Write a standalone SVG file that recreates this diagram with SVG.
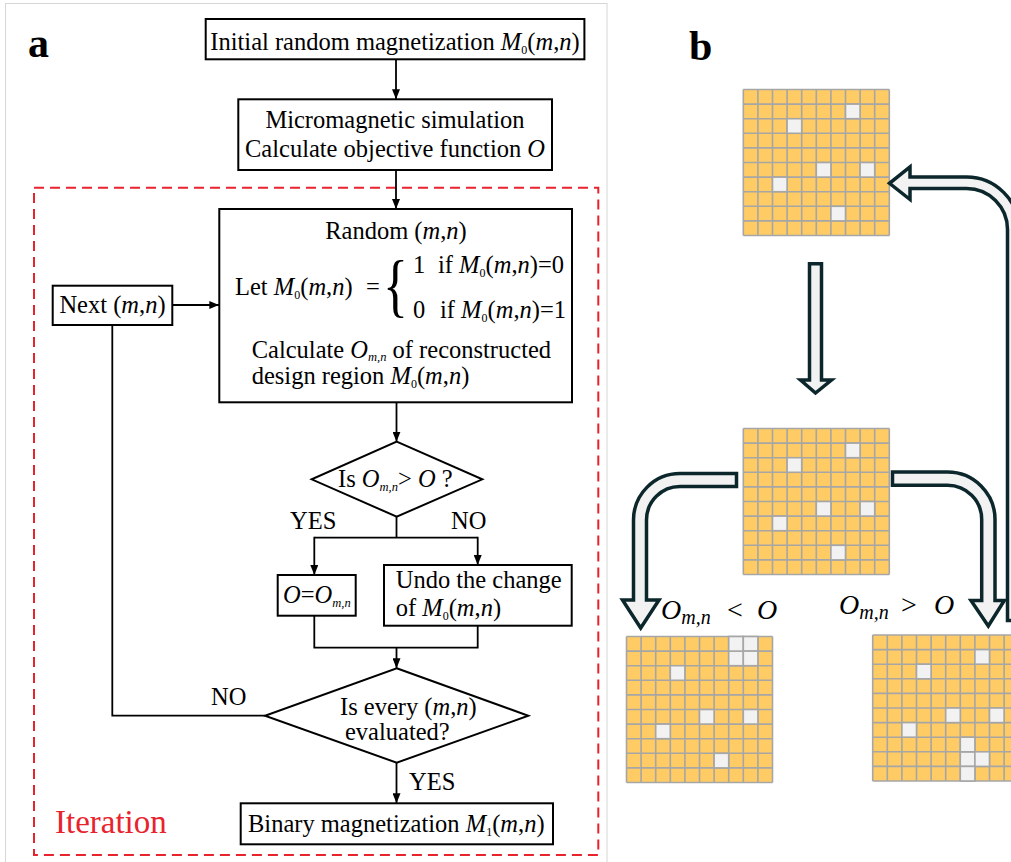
<svg xmlns="http://www.w3.org/2000/svg" xmlns:xlink="http://www.w3.org/1999/xlink" width="1011" height="862" viewBox="0 0 1011 862">
  <style>
    .t { font-family: "Liberation Serif", "Times New Roman", serif; font-size: 24.5px; fill: #000; }
    .i { font-style: italic; }
    .s { font-size: 12px; }
    .sm { font-size: 12.5px; font-style: italic; }
    .box { fill: #fff; stroke: #000; stroke-width: 2; }
    .ln { fill: none; stroke: #000; stroke-width: 1.8; }
    .arr { fill: none; stroke: #000; stroke-width: 1.8; marker-end: url(#ah); }
    .lbl { font-family: "Liberation Serif", "Times New Roman", serif; font-weight: bold; font-size: 42px; fill: #000; }
    .math { font-family: "Liberation Serif", "Times New Roman", serif; font-size: 28px; fill: #000; }
    .msub { font-size: 20px; font-style: italic; }
    .big { fill: #f2f2f2; stroke: #0c272b; stroke-width: 3.5; stroke-linejoin: miter; stroke-miterlimit: 10; }
    .cell { fill: #f2f2f2; stroke: #a6a6a6; stroke-width: 1.6; }
  </style>
  <defs>
    <marker id="ah" viewBox="0 0 10 8" refX="10" refY="4" markerWidth="10" markerHeight="8" markerUnits="userSpaceOnUse" orient="auto">
      <path d="M0 0 L10 4 L0 8 Z" fill="#000"/>
    </marker>
    <!-- 10 x 10 magnetization grid, 14.6 px pitch -->
    <g id="grid">
      <rect x="0" y="0" width="146" height="146" fill="#fecb64"/>
      <path d="M0 0V146M14.6 0V146M29.2 0V146M43.8 0V146M58.4 0V146M73 0V146M87.6 0V146M102.2 0V146M116.8 0V146M131.4 0V146M146 0V146M0 0H146M0 14.6H146M0 29.2H146M0 43.8H146M0 58.4H146M0 73H146M0 87.6H146M0 102.2H146M0 116.8H146M0 131.4H146M0 146H146" fill="none" stroke="#a6a6a6" stroke-width="1.6"/>
    </g>
    <!-- cells that are 0 in the base pattern -->
    <g id="zeros">
      <rect class="cell" x="102.2" y="14.6" width="14.6" height="14.6"/>
      <rect class="cell" x="43.8" y="29.2" width="14.6" height="14.6"/>
      <rect class="cell" x="73" y="73" width="14.6" height="14.6"/>
      <rect class="cell" x="116.8" y="73" width="14.6" height="14.6"/>
      <rect class="cell" x="29.2" y="87.6" width="14.6" height="14.6"/>
      <rect class="cell" x="87.6" y="116.8" width="14.6" height="14.6"/>
    </g>
  </defs>

  <rect width="1011" height="862" fill="#fff"/>

  <!-- panel a frame -->
  <rect x="5.5" y="3.5" width="601.5" height="870" fill="none" stroke="#d6d6d6" stroke-width="1"/>

  <!-- ===== panel a : flowchart ===== -->
  <text class="lbl" x="28" y="57">a</text>

  <g id="iteration">
    <rect x="34" y="187.7" width="564.3" height="667.3" fill="none" stroke="#e8232e" stroke-width="2" stroke-dasharray="10 6"/>
    <text x="55" y="833" font-family="Liberation Serif, Times New Roman, serif" font-size="33" fill="#e8232e">Iteration</text>
  </g>

  <g id="connectors">
    <line class="arr" x1="396" y1="59.3" x2="396" y2="99.3"/>
    <line class="arr" x1="396" y1="170" x2="396" y2="209"/>
    <line class="arr" x1="172.3" y1="305" x2="219.3" y2="305"/>
    <line class="arr" x1="396.5" y1="402.3" x2="396.5" y2="441.7"/>
    <polyline class="ln" points="396.5,516.7 396.5,537.7"/>
    <polyline class="ln" points="314.3,537.7 477.7,537.7"/>
    <line class="arr" x1="314.3" y1="536.8" x2="314.3" y2="575"/>
    <line class="arr" x1="477.7" y1="536.8" x2="477.7" y2="565"/>
    <polyline class="ln" points="314.3,615.7 314.3,647.7 477.7,647.7 477.7,625.7"/>
    <line class="arr" x1="396.5" y1="647.7" x2="396.5" y2="668.3"/>
    <polyline class="ln" points="265,715.7 112.3,715.7 112.3,325"/>
    <line class="arr" x1="396.5" y1="762.7" x2="396.5" y2="803.3"/>
    <text class="t" x="290" y="529">YES</text>
    <text class="t" x="451" y="529">NO</text>
    <text class="t" x="211" y="705">NO</text>
    <text class="t" x="409" y="790">YES</text>
  </g>

  <g id="init">
    <rect class="box" x="205.7" y="19" width="378.7" height="40.3"/>
    <text class="t" x="395" y="50" text-anchor="middle">Initial random magnetization <tspan class="i">M</tspan><tspan class="s" dy="4">0</tspan><tspan dy="-4">(</tspan><tspan class="i">m</tspan>,<tspan class="i">n</tspan>)</text>
  </g>

  <g id="simulate">
    <rect class="box" x="238.3" y="99.3" width="313.7" height="70.7"/>
    <text class="t" x="395" y="128" text-anchor="middle">Micromagnetic simulation</text>
    <text class="t" x="395" y="157" text-anchor="middle">Calculate objective function <tspan class="i">O</tspan></text>
  </g>

  <g id="next">
    <rect class="box" x="52.7" y="285.7" width="119.6" height="39.3"/>
    <text class="t" x="112.5" y="313" text-anchor="middle">Next (<tspan class="i">m</tspan>,<tspan class="i">n</tspan>)</text>
  </g>

  <g id="flip">
    <rect class="box" x="219.3" y="209" width="352.7" height="193.3"/>
    <text class="t" x="396" y="239" text-anchor="middle">Random (<tspan class="i">m</tspan>,<tspan class="i">n</tspan>)</text>
    <text class="t" x="235" y="295">Let <tspan class="i">M</tspan><tspan class="s" dy="4">0</tspan><tspan dy="-4">(</tspan><tspan class="i">m</tspan>,<tspan class="i">n</tspan>)</text>
    <text class="t" x="366" y="295">=</text>
    <text class="t" transform="translate(383,309) scale(1.3,1.75)" style="font-size:40px">{</text>
    <text class="t" x="413" y="273">1</text>
    <text class="t" x="438" y="273">if <tspan class="i">M</tspan><tspan class="s" dy="4">0</tspan><tspan dy="-4">(</tspan><tspan class="i">m</tspan>,<tspan class="i">n</tspan>)=0</text>
    <text class="t" x="413" y="318">0</text>
    <text class="t" x="440" y="318">if <tspan class="i">M</tspan><tspan class="s" dy="4">0</tspan><tspan dy="-4">(</tspan><tspan class="i">m</tspan>,<tspan class="i">n</tspan>)=1</text>
    <text class="t" x="251.7" y="357.5">Calculate <tspan class="i">O</tspan><tspan class="sm" dy="3">m,n</tspan><tspan dy="-3"> of reconstructed</tspan></text>
    <text class="t" x="251.7" y="383.5">design region <tspan class="i">M</tspan><tspan class="s" dy="4">0</tspan><tspan dy="-4">(</tspan><tspan class="i">m</tspan>,<tspan class="i">n</tspan>)</text>
  </g>

  <g id="compare">
    <polygon class="box" points="396.7,441.7 482.3,479.3 396.7,516.7 311.7,479.3"/>
    <text class="t" x="338" y="487">Is <tspan class="i">O</tspan><tspan class="sm" dy="4">m,n</tspan><tspan dy="-4">&gt; </tspan><tspan class="i">O</tspan> ?</text>
  </g>

  <g id="accept">
    <rect class="box" x="277.7" y="575" width="78" height="40.7"/>
    <text class="t" x="283" y="603"><tspan class="i">O</tspan>=<tspan class="i">O</tspan><tspan class="sm" dy="4">m,n</tspan></text>
  </g>

  <g id="undo">
    <rect class="box" x="384" y="565" width="187.7" height="60.7"/>
    <text class="t" x="395.7" y="588">Undo the change</text>
    <text class="t" x="395.7" y="616">of <tspan class="i">M</tspan><tspan class="s" dy="4">0</tspan><tspan dy="-4">(</tspan><tspan class="i">m</tspan>,<tspan class="i">n</tspan>)</text>
  </g>

  <g id="done">
    <polygon class="box" points="396.7,668.3 528.3,715.7 396.7,762.7 265,715.7"/>
    <text class="t" x="340" y="715">Is every (<tspan class="i">m</tspan>,<tspan class="i">n</tspan>)</text>
    <text class="t" x="345" y="740">evaluated?</text>
  </g>

  <g id="result">
    <rect class="box" x="240.7" y="803.3" width="312.3" height="41"/>
    <text class="t" x="248" y="832">Binary magnetization <tspan class="i">M</tspan><tspan class="s" dy="4">1</tspan><tspan dy="-4">(</tspan><tspan class="i">m</tspan>,<tspan class="i">n</tspan>)</text>
  </g>

  <!-- ===== panel b : grid update ===== -->
  <text class="lbl" x="689" y="60">b</text>

  <g id="grid-current" transform="translate(743.3,89.5)">
    <use xlink:href="#grid"/>
    <use xlink:href="#zeros"/>
  </g>

  <g id="grid-trial" transform="translate(743.3,428.5)">
    <use xlink:href="#grid"/>
    <use xlink:href="#zeros"/>
  </g>

  <g id="grid-worse" transform="translate(626.5,636.5)">
    <use xlink:href="#grid"/>
    <use xlink:href="#zeros"/>
    <rect class="cell" x="102.2" y="0" width="14.6" height="14.6"/>
    <rect class="cell" x="116.8" y="0" width="14.6" height="14.6"/>
    <rect class="cell" x="116.8" y="14.6" width="14.6" height="14.6"/>
  </g>

  <g id="grid-better" transform="translate(872.7,635)">
    <use xlink:href="#grid"/>
    <use xlink:href="#zeros"/>
    <rect class="cell" x="87.6" y="102.2" width="14.6" height="14.6"/>
    <rect class="cell" x="102.2" y="116.8" width="14.6" height="14.6"/>
    <rect class="cell" x="87.6" y="131.4" width="14.6" height="14.6"/>
  </g>

  <g id="block-arrows">
    <path class="big" d="M809.5 263.8 H821.5 V380 H831.5 L815.5 393 L800.5 380 H809.5 Z"/>
    <path class="big" d="M736.5 473.5 H680 A46.5 46.5 0 0 0 633.5 520 V600 H622.5 L640.7 628 L659 600 H646.5 V520 A33.5 33.5 0 0 1 680 486.5 H736.5 Z"/>
    <path class="big" d="M892.5 472 H947.5 A47.5 47.5 0 0 1 995 519.5 V600.5 H1004.3 L988.3 626 L971 600.5 H981.7 V519.5 A34.2 34.2 0 0 0 947.5 485.3 H892.5 Z"/>
    <path class="big" d="M1019 620.5 V229.5 A52.5 52.5 0 0 0 966.5 177 H910 V167 L889.5 183.3 L910 199.5 V188.5 H966.5 A41 41 0 0 1 1007.5 229.5 V620.5 Z"/>
    <text class="math" x="661" y="619"><tspan class="i">O</tspan><tspan class="msub" dy="5">m,n</tspan></text>
    <text class="math" x="727" y="619">&lt;</text>
    <text class="math i" x="757" y="619">O</text>
    <text class="math" x="839" y="614"><tspan class="i">O</tspan><tspan class="msub" dy="5">m,n</tspan></text>
    <text class="math" x="901" y="614">&gt;</text>
    <text class="math i" x="934" y="614">O</text>
  </g>
</svg>
